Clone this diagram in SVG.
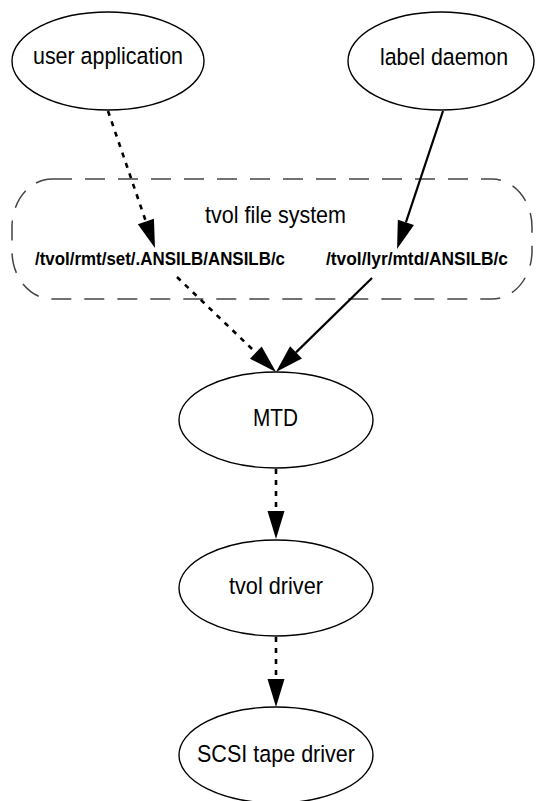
<svg xmlns="http://www.w3.org/2000/svg" width="537" height="801" viewBox="0 0 537 801">
<style>
  .node ellipse { fill: #ffffff; stroke: #000000; stroke-width: 1.4; }
  .lbl { font-family: "Liberation Sans", Arial, sans-serif; font-size: 24.5px; fill: #000000; }
  .path { font-family: "Liberation Sans", Arial, sans-serif; font-size: 18px; font-weight: bold; fill: #000000; }
  .cluster { fill: none; stroke: #444444; stroke-width: 1.5; stroke-dasharray: 20 13; }
  .edge { fill: none; stroke: #000000; }
  .dotted { stroke-width: 2.6; stroke-dasharray: 5 6; }
  .solid { stroke-width: 2.2; }
</style>
<defs>
  <marker id="ah" markerUnits="userSpaceOnUse" markerWidth="28" markerHeight="17" refX="0" refY="8.5" orient="auto" overflow="visible">
    <path d="M0,0 L28,8.5 L0,17 z" fill="#000000"/>
  </marker>
</defs>
<rect width="537" height="801" fill="#ffffff"/>

<g id="cluster-tvol-fs">
  <rect class="cluster" x="12" y="179" width="520" height="120" rx="40" ry="48"/>
  <text class="lbl" x="205" y="223" textLength="141" lengthAdjust="spacingAndGlyphs">tvol file system</text>
</g>

<g id="node-user-application" class="node">
  <ellipse cx="108" cy="61" rx="96" ry="49"/>
  <text class="lbl" x="33" y="64" textLength="150" lengthAdjust="spacingAndGlyphs">user application</text>
</g>
<g id="node-label-daemon" class="node">
  <ellipse cx="441" cy="61" rx="93" ry="49"/>
  <text class="lbl" x="380" y="65" textLength="128" lengthAdjust="spacingAndGlyphs">label daemon</text>
</g>
<g id="node-rmt-path">
  <text class="path" x="35" y="265" textLength="250" lengthAdjust="spacingAndGlyphs">/tvol/rmt/set/.ANSILB/ANSILB/c</text>
</g>
<g id="node-lyr-path">
  <text class="path" x="326" y="265" textLength="182" lengthAdjust="spacingAndGlyphs">/tvol/lyr/mtd/ANSILB/c</text>
</g>
<g id="node-mtd" class="node">
  <ellipse cx="276" cy="420" rx="97" ry="48"/>
  <text class="lbl" x="253" y="426" textLength="45" lengthAdjust="spacingAndGlyphs">MTD</text>
</g>
<g id="node-tvol-driver" class="node">
  <ellipse cx="276" cy="588" rx="97" ry="48"/>
  <text class="lbl" x="229" y="594" textLength="94" lengthAdjust="spacingAndGlyphs">tvol driver</text>
</g>
<g id="node-scsi-tape-driver" class="node">
  <ellipse cx="276" cy="755" rx="97" ry="48"/>
  <text class="lbl" x="197" y="762" textLength="158" lengthAdjust="spacingAndGlyphs">SCSI tape driver</text>
</g>

<g id="connectors">
  <path class="edge dotted" d="M108,111 L145.9,221.5" marker-end="url(#ah)"/>
  <path class="edge dotted" d="M177,277 L255.8,352.6" marker-end="url(#ah)"/>
  <path class="edge solid" d="M443,111 L405.9,222.4" marker-end="url(#ah)"/>
  <path class="edge solid" d="M372,278 L296,352.4" marker-end="url(#ah)"/>
  <path class="edge dotted" d="M276,469 L276,511" marker-end="url(#ah)"/>
  <path class="edge dotted" d="M276,637 L276,679" marker-end="url(#ah)"/>
</g>
</svg>
